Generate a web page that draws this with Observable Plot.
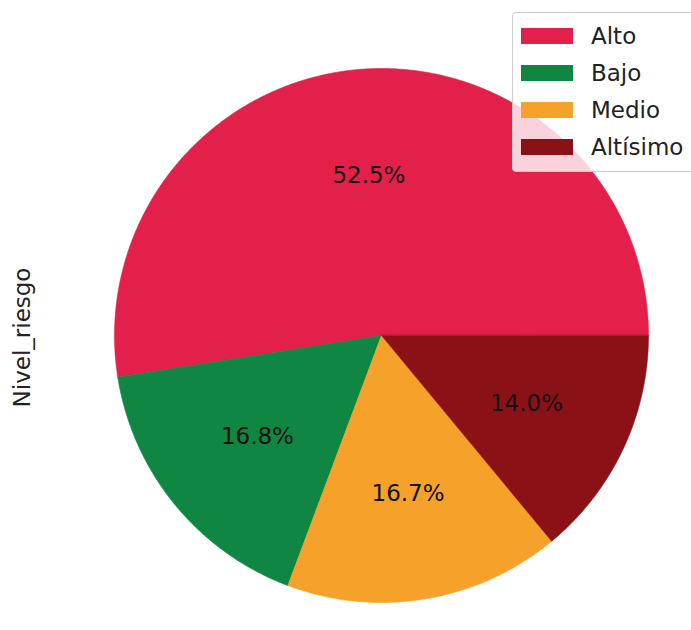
<!DOCTYPE html>
<html>
<head>
<meta charset="utf-8">
<script src="https://cdn.jsdelivr.net/npm/d3@7"></script>
<script src="https://cdn.jsdelivr.net/npm/@observablehq/plot@0.6"></script>
<style>
  body { margin: 0; background: #fff; }
  #wrap { position: relative; width: 691px; height: 630px; overflow: hidden; font-family: "DejaVu Sans", sans-serif; }
  #legend { position: absolute; left: 512px; top: 12px; width: 200px; height: 160px;
    background: rgba(255,255,255,0.8); border: 1px solid #cccccc; border-radius: 4px; box-sizing: border-box; }
  .row { position: absolute; left: 8px; height: 16px; }
  .patch { position: absolute; left: 0; top: 0; width: 52px; height: 16px; }
  .lab { position: absolute; left: 70px; top: -6px; font-size: 23px; line-height: 28px; color: #222; white-space: nowrap; }
</style>
</head>
<body>
<div id="wrap"></div>
<script>
const categories = ["Alto", "Bajo", "Medio", "Altísimo"];
const percentages = [52.5, 16.8, 16.7, 14.0];
const colors = ["#e2204a", "#0f8742", "#f5a12a", "#8a1216"];
const yLabel = "Nivel_riesgo";

// slice geometry from data: start at 0 rad (east), counter-clockwise
const total = d3.sum(percentages);
const slicePts = [];
const labels = [];
let a0 = 0;
categories.forEach((c, i) => {
  const a1 = a0 + (percentages[i] / total) * 2 * Math.PI;
  slicePts.push({cat: c, x: 0, y: 0});
  const n = Math.max(2, Math.ceil((a1 - a0) / (Math.PI / 360)));
  for (let k = 0; k <= n; k++) {
    const a = a0 + (a1 - a0) * k / n;
    slicePts.push({cat: c, x: Math.cos(a), y: Math.sin(a)});
  }
  const am = (a0 + a1) / 2;
  labels.push({cat: c, x: 0.6 * Math.cos(am), y: 0.6 * Math.sin(am), text: percentages[i].toFixed(1) + "%"});
  a0 = a1;
});

const chart = Plot.plot({
  width: 691,
  height: 630,
  margin: 0,
  style: {fontFamily: "DejaVu Sans, sans-serif", background: "white"},
  x: {domain: [-1, 1], range: [114, 648], axis: null},
  y: {domain: [-1, 1], range: [602, 68], axis: null},
  color: {domain: categories, range: colors},
  marks: [
    Plot.line(slicePts, {x: "x", y: "y", z: "cat", fill: "cat", stroke: "cat", strokeWidth: 0.6, curve: "linear-closed"}),
    Plot.text(labels, {x: "x", y: "y", text: "text", fontSize: 23, fill: "#111"}),
    Plot.text([yLabel], {text: d => d, frameAnchor: "left", textAnchor: "middle", dx: 22, dy: 22, rotate: -90, fontSize: 23, fill: "#222"})
  ]
});

const wrap = document.getElementById("wrap");
wrap.appendChild(chart);

const legend = document.createElement("div");
legend.id = "legend";
const tops = [15, 52, 89, 126];
categories.forEach((c, i) => {
  const row = document.createElement("div");
  row.className = "row";
  row.style.top = tops[i] + "px";
  const p = document.createElement("div");
  p.className = "patch";
  p.style.background = colors[i];
  const t = document.createElement("div");
  t.className = "lab";
  t.textContent = c;
  row.appendChild(p);
  row.appendChild(t);
  legend.appendChild(row);
});
wrap.appendChild(legend);
</script>
</body>
</html>
